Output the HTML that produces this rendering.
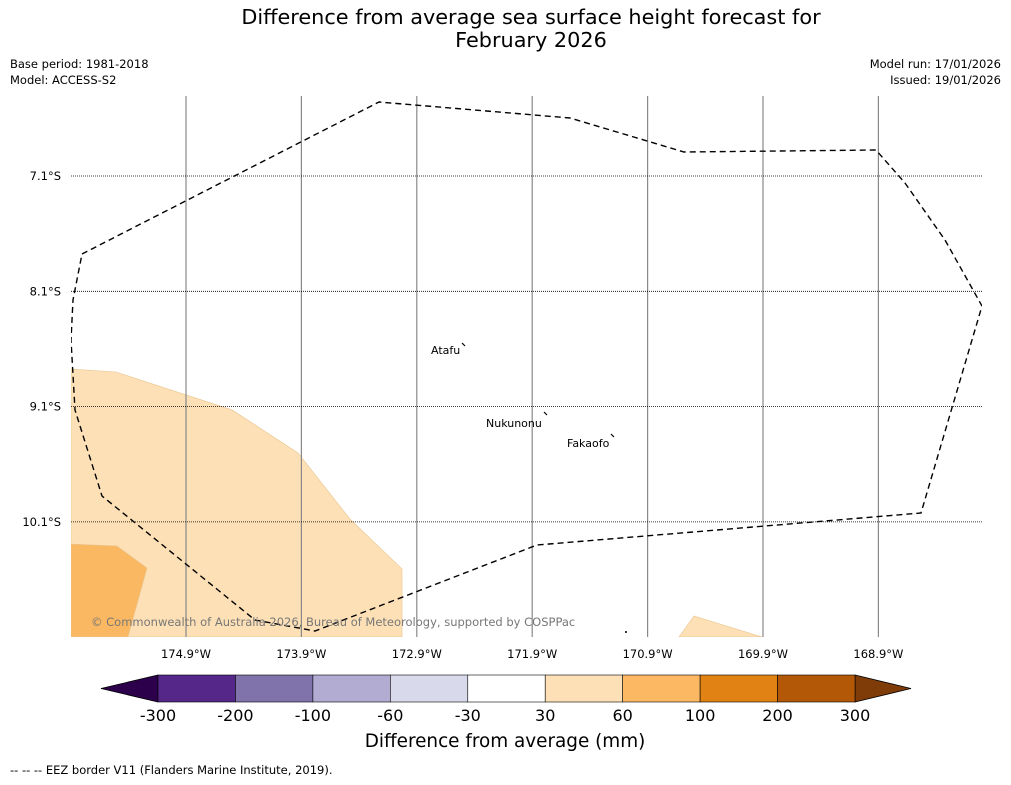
<!DOCTYPE html>
<html><head><meta charset="utf-8"><style>
body{margin:0;background:#fff;width:1011px;height:781px;overflow:hidden;font-family:"DejaVu Sans","Liberation Sans",sans-serif}
</style></head><body>
<svg id="c" width="1011" height="781" xmlns="http://www.w3.org/2000/svg" font-family="DejaVu Sans, Liberation Sans, sans-serif">
<text x="531" y="24" font-size="20.8" text-anchor="middle">Difference from average sea surface height forecast for</text>
<text x="531" y="47" font-size="20.8" text-anchor="middle">February 2026</text>
<text x="10" y="68" font-size="11.5">Base period: 1981-2018</text>
<text x="10" y="84" font-size="11.5">Model: ACCESS-S2</text>
<text x="1001" y="68" font-size="11.5" text-anchor="end">Model run: 17/01/2026</text>
<text x="1001" y="84" font-size="11.5" text-anchor="end">Issued: 19/01/2026</text>
<g id="map"></g>
<g id="cb"></g>
<text x="505" y="747" font-size="18.4" text-anchor="middle">Difference from average (mm)</text>
<text x="10" y="774" font-size="11.5">--  --  -- EEZ border V11 (Flanders Marine Institute, 2019).</text>
</svg>
<script>
const lonTicks=[-174.9,-173.9,-172.9,-171.9,-170.9,-169.9,-168.9];
const latTicks=[-7.1,-8.1,-9.1,-10.1];
const lightLon=[-175.897,-175.507,-174.501,-173.929,-173.479,-173.028,-173.028,-175.897];
const lightLat=[-8.774,-8.800,-9.129,-9.502,-10.075,-10.508,-11.098,-11.098];
const darkLon=[-175.897,-175.498,-175.238,-175.403,-175.897];
const darkLat=[-10.292,-10.309,-10.500,-11.098,-11.098];
const smallLon=[-170.628,-170.498,-169.909];
const smallLat=[-11.098,-10.916,-11.098];
const cbLabels=["-300","-200","-100","-60","-30","30","60","100","200","300"];
const cbColors=["#542788","#8073ac","#b2abd2","#d8daeb","#ffffff","#fee0b6","#fdb863","#e08214","#b35806"];
const islands=["Atafu","Nukunonu","Fakaofo"];
const NS="http://www.w3.org/2000/svg";
const X0=71,X1=982,Y0=96,Y1=637;
const xs=l=>186+(l+174.9)*115.4;
const ys=l=>176+(-7.1-l)*115.3;
function mk(t,a,p){const e=document.createElementNS(NS,t);for(const k in a)e.setAttribute(k,a[k]);p.appendChild(e);return e;}
const map=document.getElementById('map');
const clip=mk('clipPath',{id:'cl'},map);mk('rect',{x:X0,y:Y0,width:X1-X0,height:Y1-Y0},clip);
const g=mk('g',{'clip-path':'url(#cl)'},map);
function poly(lo,la,fill,name){const p=mk('polygon',{points:lo.map((v,i)=>xs(v)+','+ys(la[i])).join(' '),fill:fill,stroke:'#e8c48e','stroke-width':0.6},g);

}
poly(lightLon,lightLat,'#fde0b6','contour-30-60');
poly(darkLon,darkLat,'#fbb862','contour-60-100');
poly(smallLon,smallLat,'#fde0b6','contour-30-60-east');
lonTicks.forEach(l=>{const x=xs(l);const ln=mk('line',{x1:x,x2:x,y1:Y0,y2:Y1,stroke:'#888','stroke-width':1.2},g);


const t=mk('text',{x:x,y:658,'font-size':11.5,'text-anchor':'middle'},map);t.textContent=Math.abs(l).toFixed(1)+'°W';

});
latTicks.forEach(l=>{const y=ys(l);const ln=mk('line',{x1:X0,x2:X1,y1:y,y2:y,stroke:'#000','stroke-width':0.8,'stroke-dasharray':'1,1'},g);


const t=mk('text',{x:61,y:y+4,'font-size':11.5,'text-anchor':'end'},map);t.textContent=Math.abs(l).toFixed(1)+'°S';

});
const eez=mk('path',{d:'M82,254 L379,102 L570,118 L684,152 L876,150 L905,183 L945,240 L982,306 L921,513 L537,545 L315,631 L255,620 L102,496 L75,410 L71,340 L73,300 Z',fill:'none',stroke:'#000','stroke-width':1.4,'stroke-dasharray':'6,4'},g);


const isl=[[431,350,462,343],[486,423,544,412],[567,443,611,434]];
islands.forEach((n,i)=>{const [tx,ty,mx,my]=isl[i];const t=mk('text',{x:tx,y:ty+4,'font-size':11},map);t.textContent=n;


mk('path',{d:`M${mx},${my} l3,3`,stroke:'#000','stroke-width':1.2},map);});
mk('circle',{cx:626,cy:632,r:1,fill:'#000'},map);
const cp=mk('text',{x:91,y:626,'font-size':11.5,fill:'#777'},map);cp.textContent='© Commonwealth of Australia 2026, Bureau of Meteorology, supported by COSPPac';


const cb=document.getElementById('cb');
const cx0=158,cw=(855-158)/9,cy=675,ch=27;
mk('polygon',{points:`101,${cy+ch/2} ${cx0},${cy} ${cx0},${cy+ch}`,fill:'#2d004b',stroke:'#000','stroke-width':0.8},cb);
mk('polygon',{points:`911,${cy+ch/2} ${cx0+9*cw},${cy} ${cx0+9*cw},${cy+ch}`,fill:'#7f3b08',stroke:'#000','stroke-width':0.8},cb);
cbColors.forEach((c,i)=>{const r=mk('rect',{x:cx0+i*cw,y:cy,width:cw,height:ch,fill:c,stroke:'#000','stroke-width':0.6},cb);

});
cbLabels.forEach((s,i)=>{const t=mk('text',{x:cx0+i*cw,y:721,'font-size':16,'text-anchor':'middle'},cb);t.textContent=s;

});
</script>
</body></html>
